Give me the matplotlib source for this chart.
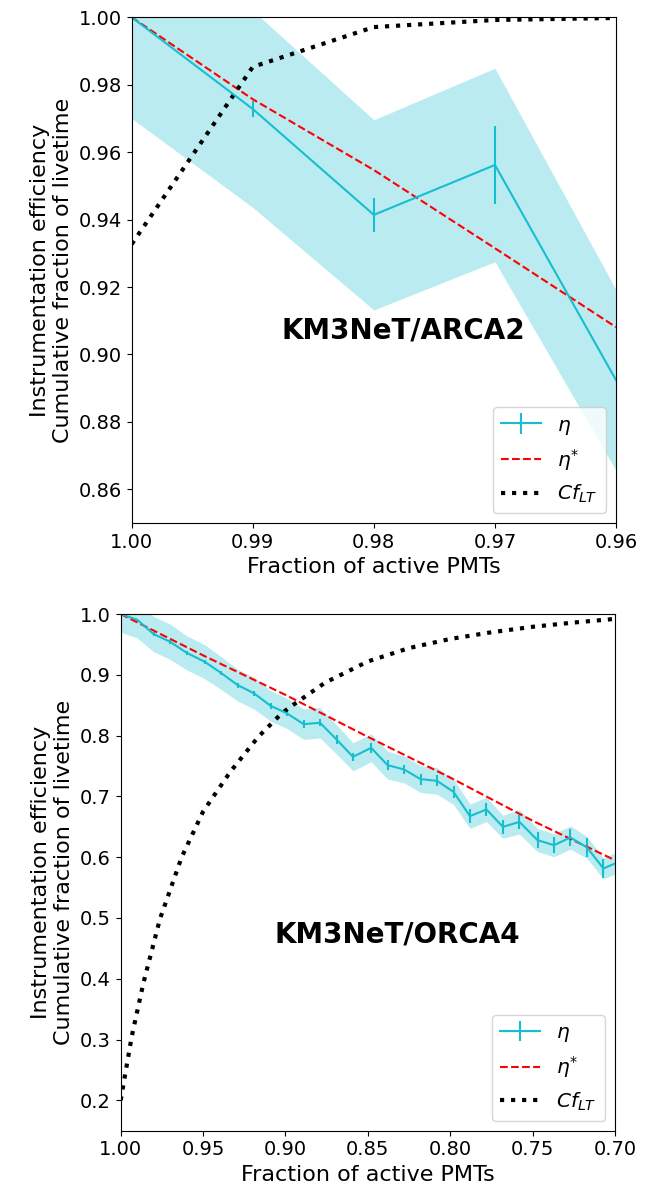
import numpy as np
import matplotlib
matplotlib.use("Agg")
import matplotlib.pyplot as plt

# ── ARCA2 ──
arca_x = [1.00, 0.99, 0.98, 0.97, 0.96]
arca_eta = [1.000, 0.9728, 0.9414, 0.9562, 0.8924]
arca_err = [0.0, 0.0023, 0.0050, 0.0116, 0.0]
arca_band_lo = [0.970, 0.9436, 0.9132, 0.9275, 0.8656]
arca_band_hi = [1.030, 1.0020, 0.9696, 0.9849, 0.9192]
arca_star = [1.000, 0.9757, 0.9547, 0.9315, 0.9081]
arca_cf = [0.9327, 0.9853, 0.9971, 0.9992, 0.9998]

# ── ORCA4 ──
orca_x = [1.000, 0.990, 0.980, 0.970, 0.960, 0.949, 0.939, 0.929, 0.919, 0.909,
          0.899, 0.889, 0.879, 0.869, 0.859, 0.848, 0.838, 0.828, 0.818, 0.808,
          0.798, 0.788, 0.778, 0.768, 0.758, 0.747, 0.737, 0.727, 0.717, 0.707,
          0.697]
orca_eta = [1.000, 0.9906, 0.967, 0.9544, 0.9363, 0.9215, 0.9029, 0.8831, 0.8695, 0.849,
            0.8365, 0.8189, 0.8211, 0.7937, 0.7651, 0.7799, 0.7514, 0.7443, 0.7284, 0.7256,
            0.7075, 0.6675, 0.6785, 0.6499, 0.6581, 0.628, 0.6198, 0.6324, 0.616, 0.5814,
            0.593]
orca_err = [0.0, 0.002, 0.003, 0.003, 0.003, 0.003, 0.004, 0.004, 0.004, 0.005,
            0.005, 0.006, 0.006, 0.007, 0.007, 0.008, 0.008, 0.008, 0.009, 0.009,
            0.010, 0.011, 0.011, 0.012, 0.012, 0.013, 0.013, 0.014, 0.015, 0.016,
            0.016]
orca_band = [0.030, 0.030, 0.029, 0.029, 0.028, 0.028, 0.027, 0.026, 0.026, 0.025,
             0.025, 0.025, 0.025, 0.024, 0.023, 0.023, 0.023, 0.022, 0.022, 0.022,
             0.021, 0.020, 0.020, 0.019, 0.020, 0.019, 0.019, 0.019, 0.018, 0.017,
             0.018]
orca_star_x = [1.00, 0.95, 0.90, 0.85, 0.80, 0.75, 0.70]
orca_star = [1.000, 0.932, 0.867, 0.798, 0.731, 0.660, 0.595]
orca_cf_x = [1.000, 0.9933, 0.9863, 0.9761, 0.963, 0.950, 0.9336, 0.9165, 0.9029,
             0.8972, 0.876, 0.850, 0.825, 0.800, 0.775, 0.750, 0.725, 0.700]
orca_cf = [0.200, 0.305, 0.392, 0.499, 0.600, 0.675, 0.740, 0.798, 0.835,
           0.847, 0.887, 0.922, 0.944, 0.959, 0.970, 0.979, 0.986, 0.992]

CYAN = "#17becf"
plt.rcParams["font.size"] = 14

fig = plt.figure(figsize=(6.52, 11.93), dpi=100)
ax1 = fig.add_axes([0.202, 0.5616, 0.7428, 0.4239])
ax2 = fig.add_axes([0.1851, 0.0522, 0.7581, 0.4331])


def draw(ax, x, eta, err, lo, hi, sx, star, cx, cf, name):
    ax.fill_between(x, lo, hi, color=CYAN, alpha=0.3, linewidth=0)
    h_eta = ax.errorbar(x, eta, yerr=err, color=CYAN, lw=1.5, capsize=0)
    h_star, = ax.plot(sx, star, "r--", lw=1.5)
    h_cf, = ax.plot(cx, cf, "k:", lw=3)
    ax.set_xlabel("Fraction of active PMTs", fontsize=16)
    ax.set_ylabel("Instrumentation efficiency\nCumulative fraction of livetime", fontsize=16)
    ax.text(0.56, 0.38, name, transform=ax.transAxes, ha="center", va="center",
            fontsize=20, fontweight="bold")
    ax.legend([h_eta, h_star, h_cf], [r"$\eta$", r"$\eta^{*}$", r"$Cf_{LT}$"],
              loc="lower right", fontsize=14.5)


draw(ax1, arca_x, arca_eta, arca_err, arca_band_lo, arca_band_hi,
     arca_x, arca_star, arca_x, arca_cf, "KM3NeT/ARCA2")
ax1.set_xlim(1.0, 0.96)
ax1.set_ylim(0.85, 1.0)
ax1.set_xticks([1.00, 0.99, 0.98, 0.97, 0.96])
ax1.set_yticks(np.arange(0.86, 1.001, 0.02))

lo = [e - b for e, b in zip(orca_eta, orca_band)]
hi = [e + b for e, b in zip(orca_eta, orca_band)]
draw(ax2, orca_x, orca_eta, orca_err, lo, hi,
     orca_star_x, orca_star, orca_cf_x, orca_cf, "KM3NeT/ORCA4")
ax2.set_xlim(1.0, 0.70)
ax2.set_ylim(0.15, 1.0)
ax2.set_xticks([1.00, 0.95, 0.90, 0.85, 0.80, 0.75, 0.70])
ax2.set_yticks(np.arange(0.2, 1.01, 0.1))

fig.savefig("out.png", dpi=100)
